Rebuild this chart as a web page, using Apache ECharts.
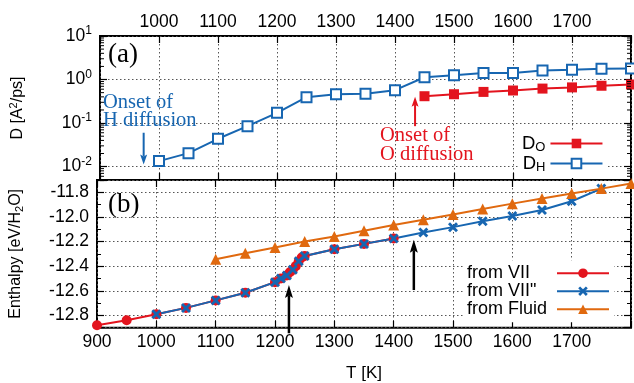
<!DOCTYPE html>
<html><head><meta charset="utf-8">
<script src="https://cdn.jsdelivr.net/npm/echarts@6/dist/echarts.min.js"></script>
<style>html,body{margin:0;padding:0;background:#fff}#c{width:634px;height:383px}</style>
</head><body><div id="c"></div>
<script>
// ---- data ----
const tD_H = [1000,1050,1100,1150,1200,1250,1300,1350,1400,1450,1500,1550,1600,1650,1700,1750,1800];
const D_H  = [0.0134,0.0204,0.0436,0.085,0.172,0.393,0.46,0.47,0.57,1.13,1.26,1.42,1.42,1.61,1.67,1.76,1.79];
const tD_O = [1450,1500,1550,1600,1650,1700,1750,1800];
const D_O  = [0.414,0.46,0.52,0.56,0.62,0.66,0.72,0.77];

const tVII = [900,950,1000,1050,1100,1150,1200,1210,1220,1225,1230,1235,1240,1245,1250,1300,1350,1400];
const hVII = [-12.88,-12.839,-12.79,-12.739,-12.678,-12.616,-12.53,-12.50,-12.475,-12.45,-12.43,-12.40,-12.36,-12.33,-12.317,-12.262,-12.219,-12.175];
const tVIIpp = [1000,1050,1100,1150,1200,1210,1220,1230,1240,1250,1300,1350,1400,1450,1500,1550,1600,1650,1700,1750];
const hVIIpp = [-12.79,-12.739,-12.678,-12.616,-12.53,-12.50,-12.475,-12.43,-12.36,-12.317,-12.262,-12.219,-12.175,-12.127,-12.083,-12.036,-11.993,-11.944,-11.873,-11.77];
const tFluid = [1100,1150,1200,1250,1300,1350,1400,1450,1500,1550,1600,1650,1700,1750,1800];
const hFluid = [-12.344,-12.295,-12.249,-12.20,-12.159,-12.113,-12.066,-12.023,-11.98,-11.936,-11.892,-11.851,-11.81,-11.77,-11.729];

const xRange = [900, 1800];
const dRange = [0.00493, 10];
const hRange = [-12.9, -11.7];
const logMinorMultipliers = [2, 3, 4, 5, 6, 7, 8, 9];
const logDecades = [-3, -2, -1, 0];

// ---- style ----
const SANS = 'Liberation Sans', SERIF = 'Liberation Serif';
const RED = '#e3141e', BLUE = '#1766b1', ORANGE = '#e0690f';
const pairs = (xs, ys) => xs.map((x, i) => [x, ys[i]]);
const gridLine = { lineStyle: { type: [1.5, 2.5], color: '#555', width: 1 } };
const tick = { inside: true, length: 7, lineStyle: { color: '#000', width: 1.2 } };
const XSYM = 'path://M2,0 L5,3 L8,0 L10,2 L7,5 L10,8 L8,10 L5,7 L2,10 L0,8 L3,5 L0,2 Z';

function makeX(gi, pos, labels, split, extra) {
  return Object.assign({
    type: 'value', gridIndex: gi, position: pos, min: xRange[0], max: xRange[1], interval: 100,
    axisLine: { show: false }, axisTick: tick,
    axisLabel: { show: labels, fontFamily: SANS, fontSize: 17.5, color: '#000', margin: 5,
      formatter: v => (v === 900 && gi === 0) || v === 1800 ? '' : String(v) },
    splitLine: Object.assign({ show: split }, gridLine)
  }, extra || {});
}
function logLabel(v) {
  const l = Math.log10(v), e = Math.round(l);
  if (Math.abs(l - e) > 1e-6) return '';
  return '{b|10}{s|' + e + '}';
}

const option = {
  animation: false,
  backgroundColor: '#fff',
  grid: [
    { left: 90, right: 2.5, top: 36, height: 144, show: true, borderColor: '#000', borderWidth: 2, backgroundColor: 'transparent' },
    { left: 90, right: 2.5, top: 180, height: 147.7, show: true, borderColor: '#000', borderWidth: 2, backgroundColor: 'transparent' }
  ],
  xAxis: [
    makeX(0, 'bottom', false, true),
    makeX(0, 'top', true, false),
    makeX(1, 'bottom', true, true, { name: 'T [K]', nameLocation: 'middle', nameGap: 37,
      nameTextStyle: { fontFamily: SANS, fontSize: 17, color: '#000' } }),
    makeX(1, 'top', false, false)
  ],
  yAxis: [
    { type: 'log', gridIndex: 0, position: 'left', min: dRange[0], max: dRange[1], logBase: 10,
      axisLine: { show: false }, axisTick: tick,
      axisLabel: { fontFamily: SANS, fontSize: 17, color: '#000', margin: 8, formatter: logLabel,
        rich: { b: { fontFamily: SANS, fontSize: 17.5, color: '#000' },
                s: { fontFamily: SANS, fontSize: 12, color: '#000', padding: [0, 0, 10, 0] } } },
      splitLine: Object.assign({ show: true }, gridLine),
      name: '{n|D [A}{sup|2}{n|/ps]}', nameLocation: 'middle', nameGap: 72, nameRotate: 90,
      nameTextStyle: { rich: { n: { fontFamily: SANS, fontSize: 16, color: '#000' },
                               sup: { fontFamily: SANS, fontSize: 11, color: '#000', padding: [0, 0, 9, 0] } } } },
    { type: 'log', gridIndex: 0, position: 'right', min: dRange[0], max: dRange[1], logBase: 10,
      axisLine: { show: false }, axisTick: tick, axisLabel: { show: false }, splitLine: { show: false } },
    { type: 'value', gridIndex: 1, position: 'left', min: hRange[0], max: hRange[1], splitNumber: 6,
      axisLine: { show: false }, axisTick: tick,
      minorTick: { show: true, splitNumber: 2, length: 4, lineStyle: { color: '#000', width: 1 } },
      axisLabel: { fontFamily: SANS, fontSize: 17.5, color: '#000', margin: 8,
        formatter: v => (Math.abs(v - hRange[0]) < 1e-6 || Math.abs(v - hRange[1]) < 1e-6) ? '' : v.toFixed(1) },
      splitLine: Object.assign({ show: true }, gridLine),
      name: '{n|Enthalpy [eV/H}{sub|2}{n|O]}', nameLocation: 'middle', nameGap: 72, nameRotate: 90,
      nameTextStyle: { rich: { n: { fontFamily: SANS, fontSize: 16, color: '#000' },
                               sub: { fontFamily: SANS, fontSize: 11, color: '#000', padding: [7, 0, 0, 0] } } } },
    { type: 'value', gridIndex: 1, position: 'right', min: hRange[0], max: hRange[1], splitNumber: 6,
      axisLine: { show: false }, axisTick: tick,
      minorTick: { show: true, splitNumber: 2, length: 4, lineStyle: { color: '#000', width: 1 } },
      axisLabel: { show: false }, splitLine: { show: false } }
  ],
  legend: [
    { data: ['DO', 'DH'], orient: 'vertical', align: 'right', left: 518, top: 130, padding: 4,
      backgroundColor: '#fff', itemGap: 0, itemWidth: 52, itemHeight: 12, selectedMode: false,
      formatter: n => '{m|D}{s|' + n.slice(1) + '}',
      textStyle: { color: '#000', rich: { m: { fontFamily: SANS, fontSize: 18.5, color: '#000', lineHeight: 15 },
                                          s: { fontFamily: SANS, fontSize: 13, color: '#000', padding: [8, 0, 0, 0] } } } },
    { data: ['from VII', 'from VII"', 'from Fluid'], orient: 'vertical', align: 'right', left: 463, top: 260.2, padding: 4,
      backgroundColor: '#fff', itemGap: 0, itemWidth: 52, itemHeight: 12, selectedMode: false,
      formatter: n => '{t|' + n + '}',
      textStyle: { color: '#000', rich: { t: { fontFamily: SANS, fontSize: 18, color: '#000', width: 85, align: 'left', lineHeight: 18.3 } } } }
  ],
  series: [
    { name: 'DO', type: 'line', xAxisIndex: 0, yAxisIndex: 0, data: pairs(tD_O, D_O),
      symbol: 'rect', symbolSize: 10, color: RED, lineStyle: { width: 2 }, itemStyle: { color: RED } },
    { name: 'DH', type: 'line', xAxisIndex: 0, yAxisIndex: 0, data: pairs(tD_H, D_H),
      symbol: 'emptyRect', symbolSize: 10, color: BLUE, lineStyle: { width: 2 }, itemStyle: { color: BLUE, borderWidth: 2 } },
    { name: 'from VII', type: 'line', xAxisIndex: 2, yAxisIndex: 2, data: pairs(tVII, hVII),
      symbol: 'circle', symbolSize: 10, color: RED, lineStyle: { width: 2 }, itemStyle: { color: RED } },
    { name: 'from VII"', type: 'line', xAxisIndex: 2, yAxisIndex: 2, data: pairs(tVIIpp, hVIIpp),
      symbol: XSYM, symbolSize: 10, color: BLUE, lineStyle: { width: 2 }, itemStyle: { color: BLUE } },
    { name: 'from Fluid', type: 'line', xAxisIndex: 2, yAxisIndex: 2, data: pairs(tFluid, hFluid),
      symbol: 'triangle', symbolSize: 11, color: ORANGE, lineStyle: { width: 2 }, itemStyle: { color: ORANGE } }
  ]
};

const chart = echarts.init(document.getElementById('c'), null, { renderer: 'canvas' });
chart.setOption(option);

// ---- annotations anchored in data space ----
const toTop = pt => chart.convertToPixel({ xAxisIndex: 0, yAxisIndex: 0 }, pt);
const toBot = pt => chart.convertToPixel({ xAxisIndex: 2, yAxisIndex: 2 }, pt);
function arrow(a, b, color, w, hl, hw) {
  const dx = b[0] - a[0], dy = b[1] - a[1], L = Math.hypot(dx, dy);
  const ux = dx / L, uy = dy / L, px = -uy, py = ux;
  const base = [b[0] - ux * hl, b[1] - uy * hl];
  const notch = [b[0] - ux * hl * 0.8, b[1] - uy * hl * 0.8];
  return [
    { type: 'line', shape: { x1: a[0], y1: a[1], x2: notch[0], y2: notch[1] }, style: { stroke: color, lineWidth: w }, z: 50 },
    { type: 'polygon', shape: { points: [b, [base[0] + px * hw / 2, base[1] + py * hw / 2], notch, [base[0] - px * hw / 2, base[1] - py * hw / 2]] },
      style: { fill: color }, z: 50 }
  ];
}
function txt(x, y, s, color, size, fam) {
  return { type: 'text', x: x, y: y, z: 50, style: { text: s, fill: color, fontSize: size, fontFamily: fam, align: 'left', verticalAlign: 'middle' } };
}
// minor log ticks on both sides of panel (a)
const minorTicks = [];
const xl = toTop([xRange[0], 1])[0], xr = toTop([xRange[1], 1])[0];
logDecades.forEach(d => logMinorMultipliers.forEach(k => {
  const v = k * Math.pow(10, d);
  if (v <= dRange[0] || v >= dRange[1]) return;
  const y = toTop([xRange[0], v])[1];
  minorTicks.push({ type: 'line', shape: { x1: xl, y1: y, x2: xl + 4, y2: y }, style: { stroke: '#000', lineWidth: 1 }, z: 40 });
  minorTicks.push({ type: 'line', shape: { x1: xr - 4, y1: y, x2: xr, y2: y }, style: { stroke: '#000', lineWidth: 1 }, z: 40 });
}));
const g = [].concat(
  minorTicks,
  arrow(toTop([974, 0.06]), toTop([974, 0.0112]), BLUE, 2, 10, 7),
  arrow(toTop([1434, 0.085]), toTop([1434, 0.40]), RED, 2, 10, 7),
  arrow(toBot([1223.5, -12.945]), toBot([1223.5, -12.553]), '#000', 2.5, 13, 8),
  arrow(toBot([1434, -12.594]), toBot([1434, -12.186]), '#000', 2.5, 13, 8),
  [
    txt(108, 55, '(a)', '#000', 27, SERIF),
    txt(108, 205, '(b)', '#000', 27, SERIF),
    txt(103, 102.5, 'Onset of', BLUE, 20.5, SERIF),
    txt(103, 121, 'H diffusion', BLUE, 20.5, SERIF),
    txt(380, 135.5, 'Onset of', RED, 20.5, SERIF),
    txt(380, 154.5, 'O diffusion', RED, 20.5, SERIF)
  ]
);
chart.setOption({ graphic: g });
</script></body></html>
